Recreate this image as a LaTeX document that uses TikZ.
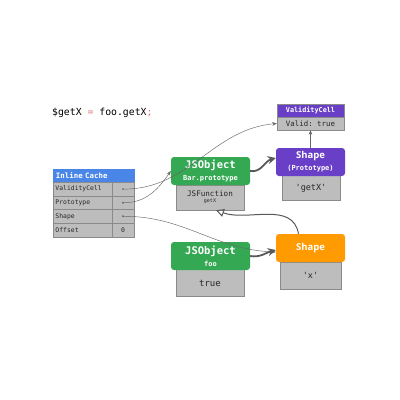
\documentclass[tikz,border=0pt]{standalone}
\usepackage{fontspec}
\setsansfont{Open Sans}
\setmonofont{DejaVu Sans Mono}
\usetikzlibrary{arrows.meta}
\definecolor{icblue}{HTML}{4A86E8}
\definecolor{objgreen}{HTML}{34A853}
\definecolor{shpurple}{HTML}{6A3FC7}
\definecolor{shorange}{HTML}{FF9A00}
\definecolor{slotgray}{HTML}{BDBDBD}
\definecolor{edgegray}{HTML}{8A8A8A}
\definecolor{codepink}{HTML}{E57373}
\newcommand{\fs}[1]{\fontsize{#1}{#1}\selectfont}
\tikzset{
  slot/.style={draw=edgegray, fill=slotgray, line width=0.4pt, inner sep=0pt, font=\ttfamily\fs{7}, text=black!85},
  head/.style={rounded corners=3pt, inner sep=0pt, text=white, minimum width=79pt, minimum height=28pt, align=center},
  thin arrow/.style={draw=black!60, line width=0.45pt, -{Stealth[length=4.5pt,width=3.5pt]}},
  thick arrow/.style={draw=black!65, line width=1.8pt, -{Stealth[length=8pt,width=8pt]}},
  dot/.style={circle, fill=black!60, inner sep=0pt, minimum size=2.2pt}
}
\begin{document}
\begin{tikzpicture}[x=1pt, y=-1pt]
    \useasboundingbox[fill=white] (0,0) rectangle (400,400);
    % source line
    \node[anchor=west, inner sep=0pt, font=\ttfamily\fs{9.8}] (code) at (52,113) {\$getX {\color{codepink}=} foo.getX{\color{codepink};}};
    % validity cell
    \node[slot, fill=shpurple, text=white, font=\ttfamily\bfseries\fs{6.8}, minimum width=67pt, minimum height=13pt] (vchead) at (310.5,110.5) {ValidityCell};
    \node[slot, font=\ttfamily\fs{7.4}, minimum width=67pt, minimum height=13pt] (vcbody) at (310.5,123.5) {Valid: true};
    % inline cache
    \node[slot, draw=icblue, fill=icblue, text=white, font=\ttfamily\bfseries\fs{7.4}, minimum width=81pt, minimum height=13pt, text width=75pt] (ichead) at (93.5,175.5) {Inline Cache};
    \foreach \name/\txt/\val [count=\i] in {rvc/ValidityCell/, rproto/Prototype/, rshape/Shape/, roff/Offset/0} {
      \node[slot, font=\ttfamily\fs{6.4}, minimum width=59pt, minimum height=13.6pt, text width=54pt] (\name) at (82.5,{175.5+13.6*\i}) {\txt};
      \node[slot, font=\ttfamily\fs{6.4}, minimum width=22pt, minimum height=13.6pt] (\name v) at (123,{175.5+13.6*\i}) {\val};
    }
    \node[dot] (dvc) at (rvcv) {};
    \node[dot] (dproto) at (rprotov) {};
    \node[dot] (dshape) at (rshapev) {};
    % JSObject Bar.prototype
    \node[slot, minimum width=68pt, minimum height=25pt, align=center] (jsfun) at (210,197.5) {{\fs{7.6}JSFunction}\\[-1pt]{\fs{5}getX}};
    \node[head, fill=objgreen] (barobj) at (210.5,171) {{\ttfamily\bfseries\fs{10.5}JSObject}\\[0pt]{\ttfamily\bfseries\fs{7}Bar.prototype}};
    % Shape (Prototype)
    \node[slot, font=\ttfamily\fs{8.5}, minimum width=58pt, minimum height=25pt] (getxkey) at (311,188) {'getX'};
    \node[head, fill=shpurple, minimum width=69pt] (protoshape) at (310.5,162) {{\sffamily\bfseries\fs{9.5}Shape}\\[0pt]{\ttfamily\bfseries\fs{7}(Prototype)}};
    % JSObject foo
    \node[slot, font=\ttfamily\fs{9}, minimum width=68pt, minimum height=27pt] (trueval) at (210,283) {true};
    \node[head, fill=objgreen] (fooobj) at (210.5,256) {{\ttfamily\bfseries\fs{10.5}JSObject}\\[0pt]{\ttfamily\bfseries\fs{7}foo}};
    % Shape of foo
    \node[slot, font=\ttfamily\fs{8.5}, minimum width=61pt, minimum height=27pt] (xkey) at (310.5,275.5) {'x'};
    \node[head, fill=shorange, minimum width=69pt, font=\sffamily\bfseries\fs{9.5}] (fooshape) at (310.5,248) {Shape};
    % connectors
    \draw[thin arrow] (dvc) to[out=0, in=185] (vcbody.west);
    \draw[thin arrow] (dproto) to[out=0, in=235] (barobj.west);
    \draw[thin arrow] (dshape) to[out=0, in=178] ([yshift=-4pt]fooshape.west);
    \draw[thin arrow] (protoshape.north) -- (vcbody.south);
    \draw[thick arrow] (barobj.east) to[out=-10, in=195] ([yshift=4pt]protoshape.west);
    \draw[thick arrow] (fooobj.east) to[out=-10, in=195] ([yshift=-2pt]fooshape.west);
    \draw[draw=black!65, line width=1pt, -{Triangle[open, length=8pt, width=8pt]}] ([xshift=-12pt]fooshape.north) to[out=100, in=-20] ([xshift=6pt]jsfun.south);
\end{tikzpicture}
\end{document}
